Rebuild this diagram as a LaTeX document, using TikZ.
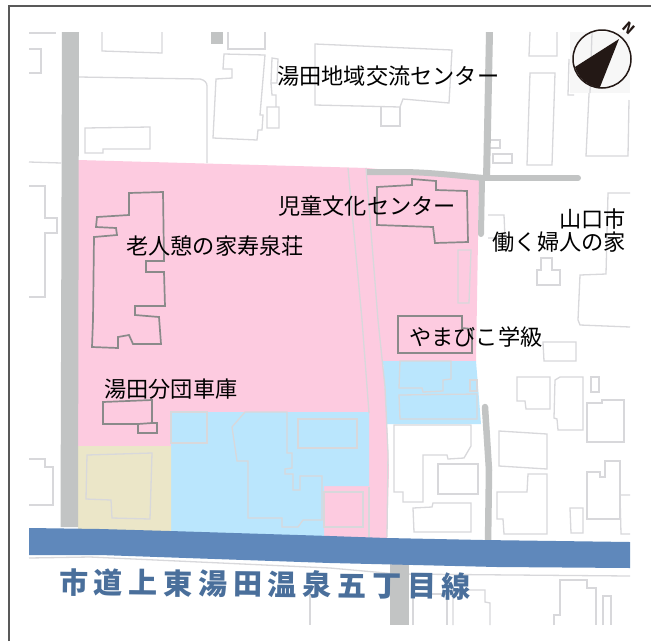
\documentclass[tikz,border=0pt]{standalone}
\usepackage{fontspec}
\setmainfont{Noto Sans CJK JP}
\newfontfamily\roadfont[LetterSpace=20]{Noto Sans CJK JP}
\definecolor{pinkarea}{HTML}{FDCBE0}
\definecolor{bluearea}{HTML}{BAE6FD}
\definecolor{tanarea}{HTML}{EBE6C8}
\definecolor{roadgray}{HTML}{C2C4C4}
\definecolor{mainroad}{HTML}{5F88BB}
\definecolor{roadtext}{HTML}{4A6F9B}
\definecolor{lightline}{HTML}{D8D8DB}
\definecolor{darkline}{HTML}{8A8A8A}
\definecolor{compassink}{HTML}{231815}
\tikzset{
  lb/.style={draw=lightline,line width=1.3pt,line join=miter},
  db/.style={draw=darkline,line width=1.7pt,line join=miter},
  rd/.style={draw=roadgray,line cap=round},
  lab/.style={inner sep=0pt,font=\fontsize{22.2}{24}\selectfont,text=black}
}
\begin{document}
\begin{tikzpicture}[x=1pt,y=-1pt]
\useasboundingbox (0,0) rectangle (651,641);
\fill[white] (0,0) rectangle (651,641);
% frame
\draw[draw=black!65,line width=1.6pt] (9,641) -- (9,6) -- (651,6);
% areas
\fill[pinkarea] (78,160) -- (367,168) -- (479,179) -- (476,361) -- (383,361) -- (387,424) -- (389,470) -- (387,540) -- (78,530) -- cycle;
\fill[bluearea] (383,361) -- (476,361) -- (481,424) -- (387,424) -- cycle;
\fill[bluearea] (171,412) -- (369,412) -- (369,486) -- (324,486) -- (324,540) -- (171,535) -- cycle;
\fill[tanarea] (78,446) -- (171,446) -- (171,535) -- (78,530) -- cycle;
% light lines on the site
\draw[lb] (348,168) -- (362,320) -- (369,413);
\draw[lb] (369,487) -- (369,537);
\draw[lb] (366,168) -- (378,320) -- (385,387) -- (388,453) -- (387,537);
% light buildings, upper left
\draw[lb] (29,33) -- (56,33);
\draw[lb] (29,49) -- (41,49) -- (41,73) -- (29,73);
\draw[lb] (102,32) -- (102,51) -- (162,53) -- (162,32);
\fill[roadgray] (211,32) rectangle (223,44);
\draw[lb] (228,32) -- (228,49) -- (265,49) -- (265,32);
\draw[lb] (224,54) -- (265,55) -- (260,115) -- (263,115) -- (262,130) -- (258,130) -- (257,140) -- (213,138) -- (216,79) -- (232,78) -- (232,69) -- (223,69) -- cycle;
\draw[lb] (272,58) -- (278,59) -- (277,83) -- (271,83) -- cycle;
\draw[lb] (271,83) -- (272,95) -- (276,95) -- (276,107) -- (267,107) -- (267,128) -- (279,128) -- (279,107) -- (276,107);
\draw[lb] (79,77) -- (200,79) .. controls (205,80) and (207,83) .. (207,86) -- (207,163);
\draw[lb] (85,128) -- (150,127) -- (150,149) -- (103,149) -- (103,153) -- (85,153) -- cycle;
\draw[lb] (29,162) -- (61,163);
\draw[lb] (29,186) -- (45,186) -- (45,218) -- (57,218) -- (57,233) -- (45,233) -- (45,297) -- (29,297);
% community centre
\draw[lb] (315,44) -- (452,50) -- (449,103) -- (403,99) -- (400,107) -- (315,105) -- cycle;
\draw[lb] (381,107) -- (381,126) -- (400,126) -- (400,107);
% upper right
\draw[lb] (530,32) -- (529,56) -- (557,56) -- (557,32);
\draw[lb] (530,73) -- (527,165) -- (552,165) -- (555,73) -- cycle;
\draw[lb] (592,33) -- (586,156) -- (628,156) -- (629,100);
\draw[lb] (490,140) -- (500,140) -- (500,148) -- (490,148);
\draw[lb] (493,154) -- (512,154) -- (512,163) -- (493,163) -- cycle;
\draw[lb] (488,215) -- (504,215) -- (505,238) -- (488,238);
\draw[lb] (541,258) -- (552,258) -- (552,270) -- (560,270) -- (560,285) -- (537,285) -- (537,270) -- (541,270) -- cycle;
\draw[lb] (630,193) -- (608,193) -- (606,274) -- (580,275) -- (578,320) -- (580,325) -- (630,327);
\draw[lb] (458,250) -- (471,250) -- (469,303) -- (458,303) -- cycle;
% lower right
\draw[lb] (543,342) -- (576,342) -- (576,361) -- (544,361) -- cycle;
\draw[lb] (517,377) -- (550,377) -- (550,409) -- (526,409) -- (525,401) -- (517,401) -- cycle;
\draw[lb] (555,380) -- (560,377) -- (583,377) -- (583,430) -- (558,430) -- (557,419) -- (554,418) -- cycle;
\draw[lb] (591,377) -- (599,377) -- (599,392) -- (591,392) -- cycle;
\draw[lb] (587,403) -- (602,403) -- (602,400) -- (624,400) -- (624,442) -- (587,442) -- cycle;
\draw[lb] (499,431) -- (547,434) -- (547,469) -- (499,466) -- cycle;
\draw[lb] (497,492) -- (527,492) -- (528,474) -- (547,474) -- (547,534) -- (504,534) -- (503,519) -- (497,519) -- cycle;
\draw[lb] (587,472) -- (600,472) -- (600,477) -- (605,477) -- (605,461) -- (620,461) -- (620,519) -- (587,519) -- cycle;
\draw[lb] (630,495) -- (620,495) -- (621,534) -- (630,534);
\draw[lb] (570,508) -- (583,508) -- (583,533) -- (571,533) -- cycle;
\draw[lb] (394,425) -- (471,425) -- (471,446) -- (464,458) -- (448,459) -- (447,455) -- (423,455) -- (423,502) -- (403,502) -- (403,492) -- (394,492) -- cycle;
\draw[lb] (438,464) -- (478,464) -- (478,494) -- (438,494) -- cycle;
\draw[lb] (413,508) -- (432,507) -- (433,503) -- (471,503) -- (471,532) -- (414,532) -- cycle;
% blue blocks
\draw[lb] (400,361) -- (451,361) -- (451,379) -- (443,380) -- (443,391) -- (423,392) -- (422,388) -- (399,388) -- cycle;
\draw[lb] (399,395) -- (477,394) -- (477,419) -- (400,419) -- cycle;
\draw[lb] (470,380) -- (477,380) -- (477,391) -- (470,391) -- cycle;
\draw[lb] (298,419) -- (357,419) -- (357,448) -- (298,448) -- cycle;
\draw[lb] (324,492) -- (363,492) -- (363,527) -- (324,527) -- cycle;
\draw[lb] (171,412) -- (207,412) -- (207,443) -- (171,443) -- cycle;
\draw[lb] (245,412) -- (287,412) -- (287,453) -- (292,453) -- (292,468) -- (285,469) -- (285,474) -- (293,474) -- (293,490) -- (300,490) -- (300,476) -- (322,476) -- (322,520) -- (303,520) -- (298,527) -- (282,527) -- (282,518) -- (248,518) -- (248,461) -- (237,461) -- (232,427) -- cycle;
\draw[lb] (87,455) -- (152,453) -- (150,519) -- (112,518) -- (111,500) -- (86,499) -- cycle;
\draw[lb] (29,459) -- (45,459) -- (45,467) -- (53,467) -- (53,505) -- (29,505);
% below the main road
\draw[lb] (29,558) -- (90,557) -- (330,568) -- (397,574) -- (630,576);
\draw[lb] (310,593) -- (310,625);
\draw[lb] (413,625) -- (413,594) -- (447,594) -- (447,625);
\draw[lb] (453,625) -- (453,590) -- (485,590) -- (485,602) -- (490,603) -- (490,625);
\draw[lb] (554,625) -- (554,615) -- (560,615) -- (560,580) -- (587,580) -- (587,588) -- (596,588) -- (596,625);
\draw[lb] (603,625) -- (603,596) -- (611,596) -- (611,625);
% grey roads
\fill[roadgray] (62,32) -- (79,32) -- (78,527) -- (60.5,527) -- cycle;
\fill[roadgray] (390,560) -- (409,560) -- (409,625) -- (390,625) -- cycle;
\fill[roadgray] (486,32) -- (493,32) -- (490,180) -- (483,180) -- cycle;
\draw[rd,line width=6pt,line cap=butt] (367,172) -- (400,172) .. controls (430,172) and (460,176) .. (484,178);
\draw[rd,line width=6pt] (484,178) -- (578,178);
\draw[rd,line width=6pt] (482,178) -- (481,234);
\draw[rd,line width=6.5pt] (485,407) -- (489,470) -- (488,545);
% main road
\fill[mainroad] (29,528) -- (100,529) -- (170,531) -- (330,536) -- (387,538) -- (483,540) -- (630,542) -- (630,568) -- (497,567) -- (330,563) -- (100,555) -- (29,555) -- cycle;
% dark buildings
\draw[db] (129,193) -- (163,192) -- (164,261) -- (146,261) -- (146,272) -- (164,272) -- (165,306) -- (135,306) -- (135,315) -- (159,317) -- (161,344) -- (133,344) -- (129,335) -- (118,337) -- (118,348) -- (92,347) -- (93,320) -- (94,237) -- (117,235) -- (116,228) -- (96,227) -- (97,217) -- (129,215) -- cycle;
\draw[db] (377,187) -- (412,185) -- (412,179) -- (436,181) -- (436,190) -- (467,191) -- (468,242) -- (435,243) -- (433,227) -- (377,225) -- cycle;
\draw[db] (398,316) -- (462,316) -- (462,328) -- (472,329) -- (472,353) -- (398,353) -- cycle;
\draw[db] (103,402) -- (152,400) -- (152,423) -- (157,423) -- (157,433) -- (138,433) -- (138,424) -- (103,424) -- cycle;
\draw[db] (138,424) -- (152,423);
% compass
\fill[white!97!black] (570,32) rectangle (630,93);
\draw[lb] (569,59) -- (568,95) -- (574,95);
\draw[lb] (592,33) -- (590,93);
\draw[draw=compassink,line width=1.5pt] (602,59) circle[radius=29pt];
\fill[compassink] (619,39) -- (575,67) arc[start angle=196.5,end angle=264,radius=29pt] -- cycle;
\node[inner sep=0pt,rotate=-42,text=compassink,font=\fontsize{14}{14}\selectfont\bfseries] (north) at (629,28) {N};
% labels
\node[lab,anchor=west] (center) at (277,76) {湯田地域交流センター};
\node[lab,anchor=west] (jido) at (278,206) {児童文化センター};
\node[lab,anchor=west] (rojin) at (126,246) {老人憩の家寿泉荘};
\node[lab,anchor=east] (yama) at (626,219) {山口市};
\node[lab,anchor=east] (fujin) at (626,242) {働く婦人の家};
\node[lab,anchor=west] (yamabiko) at (409,337) {やまびこ学級};
\node[lab,anchor=west] (shako) at (104,389) {湯田分団車庫};
\node[inner sep=0pt,anchor=west,rotate=-0.6,text=roadtext,font=\roadfont\fontsize{29}{30}\selectfont\bfseries] (roadname) at (59,582) {市道上東湯田温泉五丁目線};
\end{tikzpicture}
\end{document}
